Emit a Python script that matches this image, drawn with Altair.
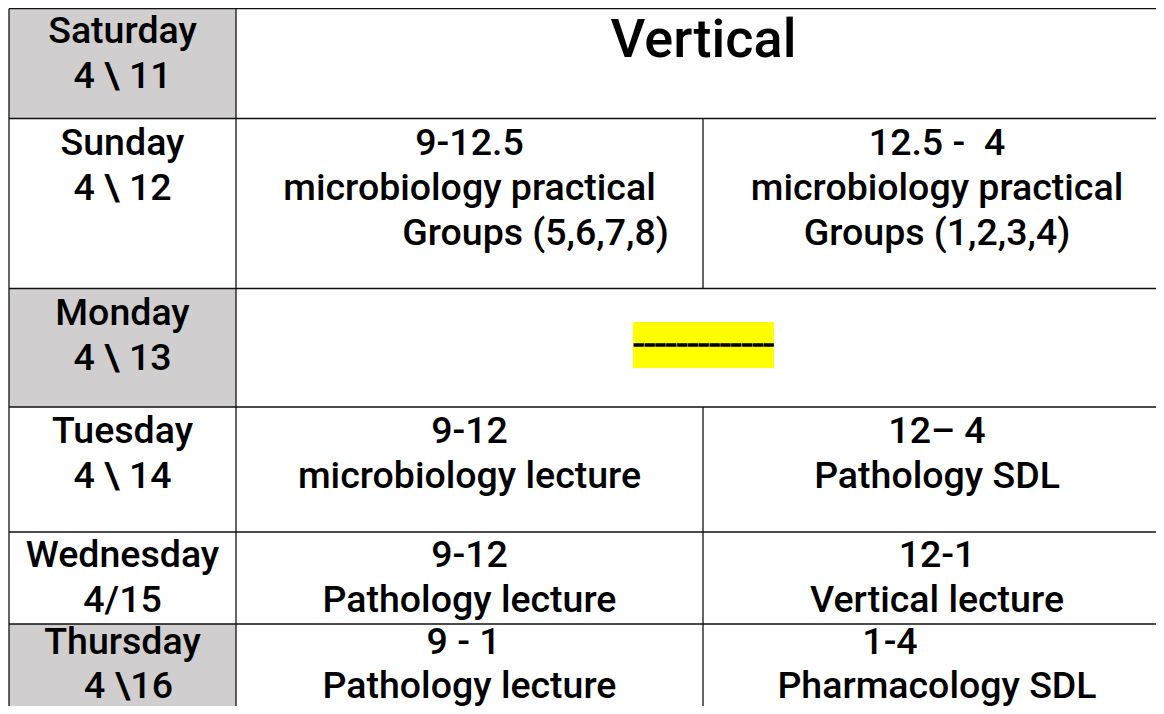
import altair as alt
import pandas as pd

# ---- table content -------------------------------------------------------
days = ["Saturday", "Sunday", "Monday", "Tuesday", "Wednesday", "Thursday"]
dates = ["4 \\ 11", "4 \\ 12", "4 \\ 13", "4 \\ 14", "4/15", "4 \\16"]
shaded_rows = [0, 2, 5]

banner_text = "Vertical"
gap_text = "\u2013" * 13

split_rows = [1, 3, 4, 5]
morning = [
    ["9-12.5", "microbiology practical", "Groups (5,6,7,8)"],
    ["9-12", "microbiology lecture"],
    ["9-12", "Pathology lecture"],
    ["9 - 1", "Pathology lecture"],
]
afternoon = [
    ["12.5 -\u00a0 4", "microbiology practical", "Groups (1,2,3,4)"],
    ["12\u2013 4", "Pathology SDL"],
    ["12-1", "Vertical lecture"],
    ["1-4", "Pharmacology SDL"],
]

# ---- layout (page pixel grid) ------------------------------------------
W, H = 1148, 698
M = 8
col_edges = [9, 236, 703, 1171]
row_tops = [5, 118.5, 288.5, 407, 532, 624]
row_edges = [8.7, 118.5, 288.5, 407, 532, 624, 730]
FS = 37.5
row_first = [38, 36, 36, 36, 35, 30]
row_lead = [45, 45, 45, 45, 45, 43.5]
# horizontal indents of a few lines, as typed in the source document
indent = {"Groups (5,6,7,8)": 66, "1-4": -47, "4 \\16": 6, "9 - 1": -6}

def cx(c0, c1):
    return (col_edges[c0] + col_edges[c1]) / 2

def put(rows, x, r, lines):
    for i, t in enumerate(lines):
        rows.append({"x": x + indent.get(t, 0),
                     "y": row_tops[r] + row_first[r] + row_lead[r] * i, "t": t})

text_rows = []
for r, (d, dt) in enumerate(zip(days, dates)):
    put(text_rows, cx(0, 1), r, [d, dt])
for r, am, pm in zip(split_rows, morning, afternoon):
    put(text_rows, cx(1, 2), r, am)
    put(text_rows, cx(2, 3), r, pm)
text_df = pd.DataFrame(text_rows)

fills = pd.DataFrame([
    {"x": col_edges[0], "x2": col_edges[1], "y": row_edges[r], "y2": row_edges[r + 1]}
    for r in shaded_rows
])

rules = []
for y in row_edges[:-1]:
    rules.append({"x": col_edges[0], "x2": col_edges[-1], "y": y, "y2": y})
for x in [col_edges[0], col_edges[1], col_edges[-1]]:
    rules.append({"x": x, "x2": x, "y": row_edges[0], "y2": row_edges[-1]})
for r in split_rows:
    rules.append({"x": col_edges[2], "x2": col_edges[2], "y": row_edges[r], "y2": row_edges[r + 1]})
rules_df = pd.DataFrame(rules)

banner_df = pd.DataFrame([{"x": cx(1, 3), "y": 57, "t": banner_text}])
gap_df = pd.DataFrame([{"x": cx(1, 3), "y": 346, "t": gap_text}])
hl_df = pd.DataFrame([{"x": 633, "x2": 774, "y": 322, "y2": 368}])

xs = alt.Scale(domain=[M, M + W], range=[0, W], nice=False, zero=False)
ys = alt.Scale(domain=[M, M + H], range=[0, H], nice=False, zero=False)

def X(f="x"):
    return alt.X(f"{f}:Q", scale=xs, axis=None)

def Y(f="y"):
    return alt.Y(f"{f}:Q", scale=ys, axis=None)

fill_layer = alt.Chart(fills).mark_rect(color="#d0cece").encode(
    x=X(), x2="x2:Q", y=Y(), y2="y2:Q")
hl_layer = alt.Chart(hl_df).mark_rect(color="#ffff00").encode(
    x=X(), x2="x2:Q", y=Y(), y2="y2:Q")
rule_layer = alt.Chart(rules_df).mark_rule(color="#111111", strokeWidth=1.3).encode(
    x=X(), x2="x2:Q", y=Y(), y2="y2:Q")
text_layer = alt.Chart(text_df).mark_text(
    font="Roboto", fontSize=FS, fontWeight=500, baseline="alphabetic", align="center",
    color="#000000"
).encode(x=X(), y=Y(), text="t:N")
banner_layer = alt.Chart(banner_df).mark_text(
    font="Roboto", fontSize=54, fontWeight=500, baseline="alphabetic", align="center",
    color="#000000"
).encode(x=X(), y=Y(), text="t:N")
gap_layer = alt.Chart(gap_df).mark_text(
    font="Roboto", fontSize=17.2, fontWeight="bold", baseline="middle", align="center",
    color="#000000", stroke="#000000", strokeWidth=1.6
).encode(x=X(), y=Y(), text="t:N")

chart = alt.layer(
    fill_layer, hl_layer, rule_layer, text_layer, banner_layer, gap_layer
).properties(
    width=W, height=H, padding=0, background="white",
    autosize=alt.AutoSizeParams(type="none")
).configure_view(strokeWidth=0)

chart.save("out.html", embed_options={"renderer": "svg", "actions": False})
